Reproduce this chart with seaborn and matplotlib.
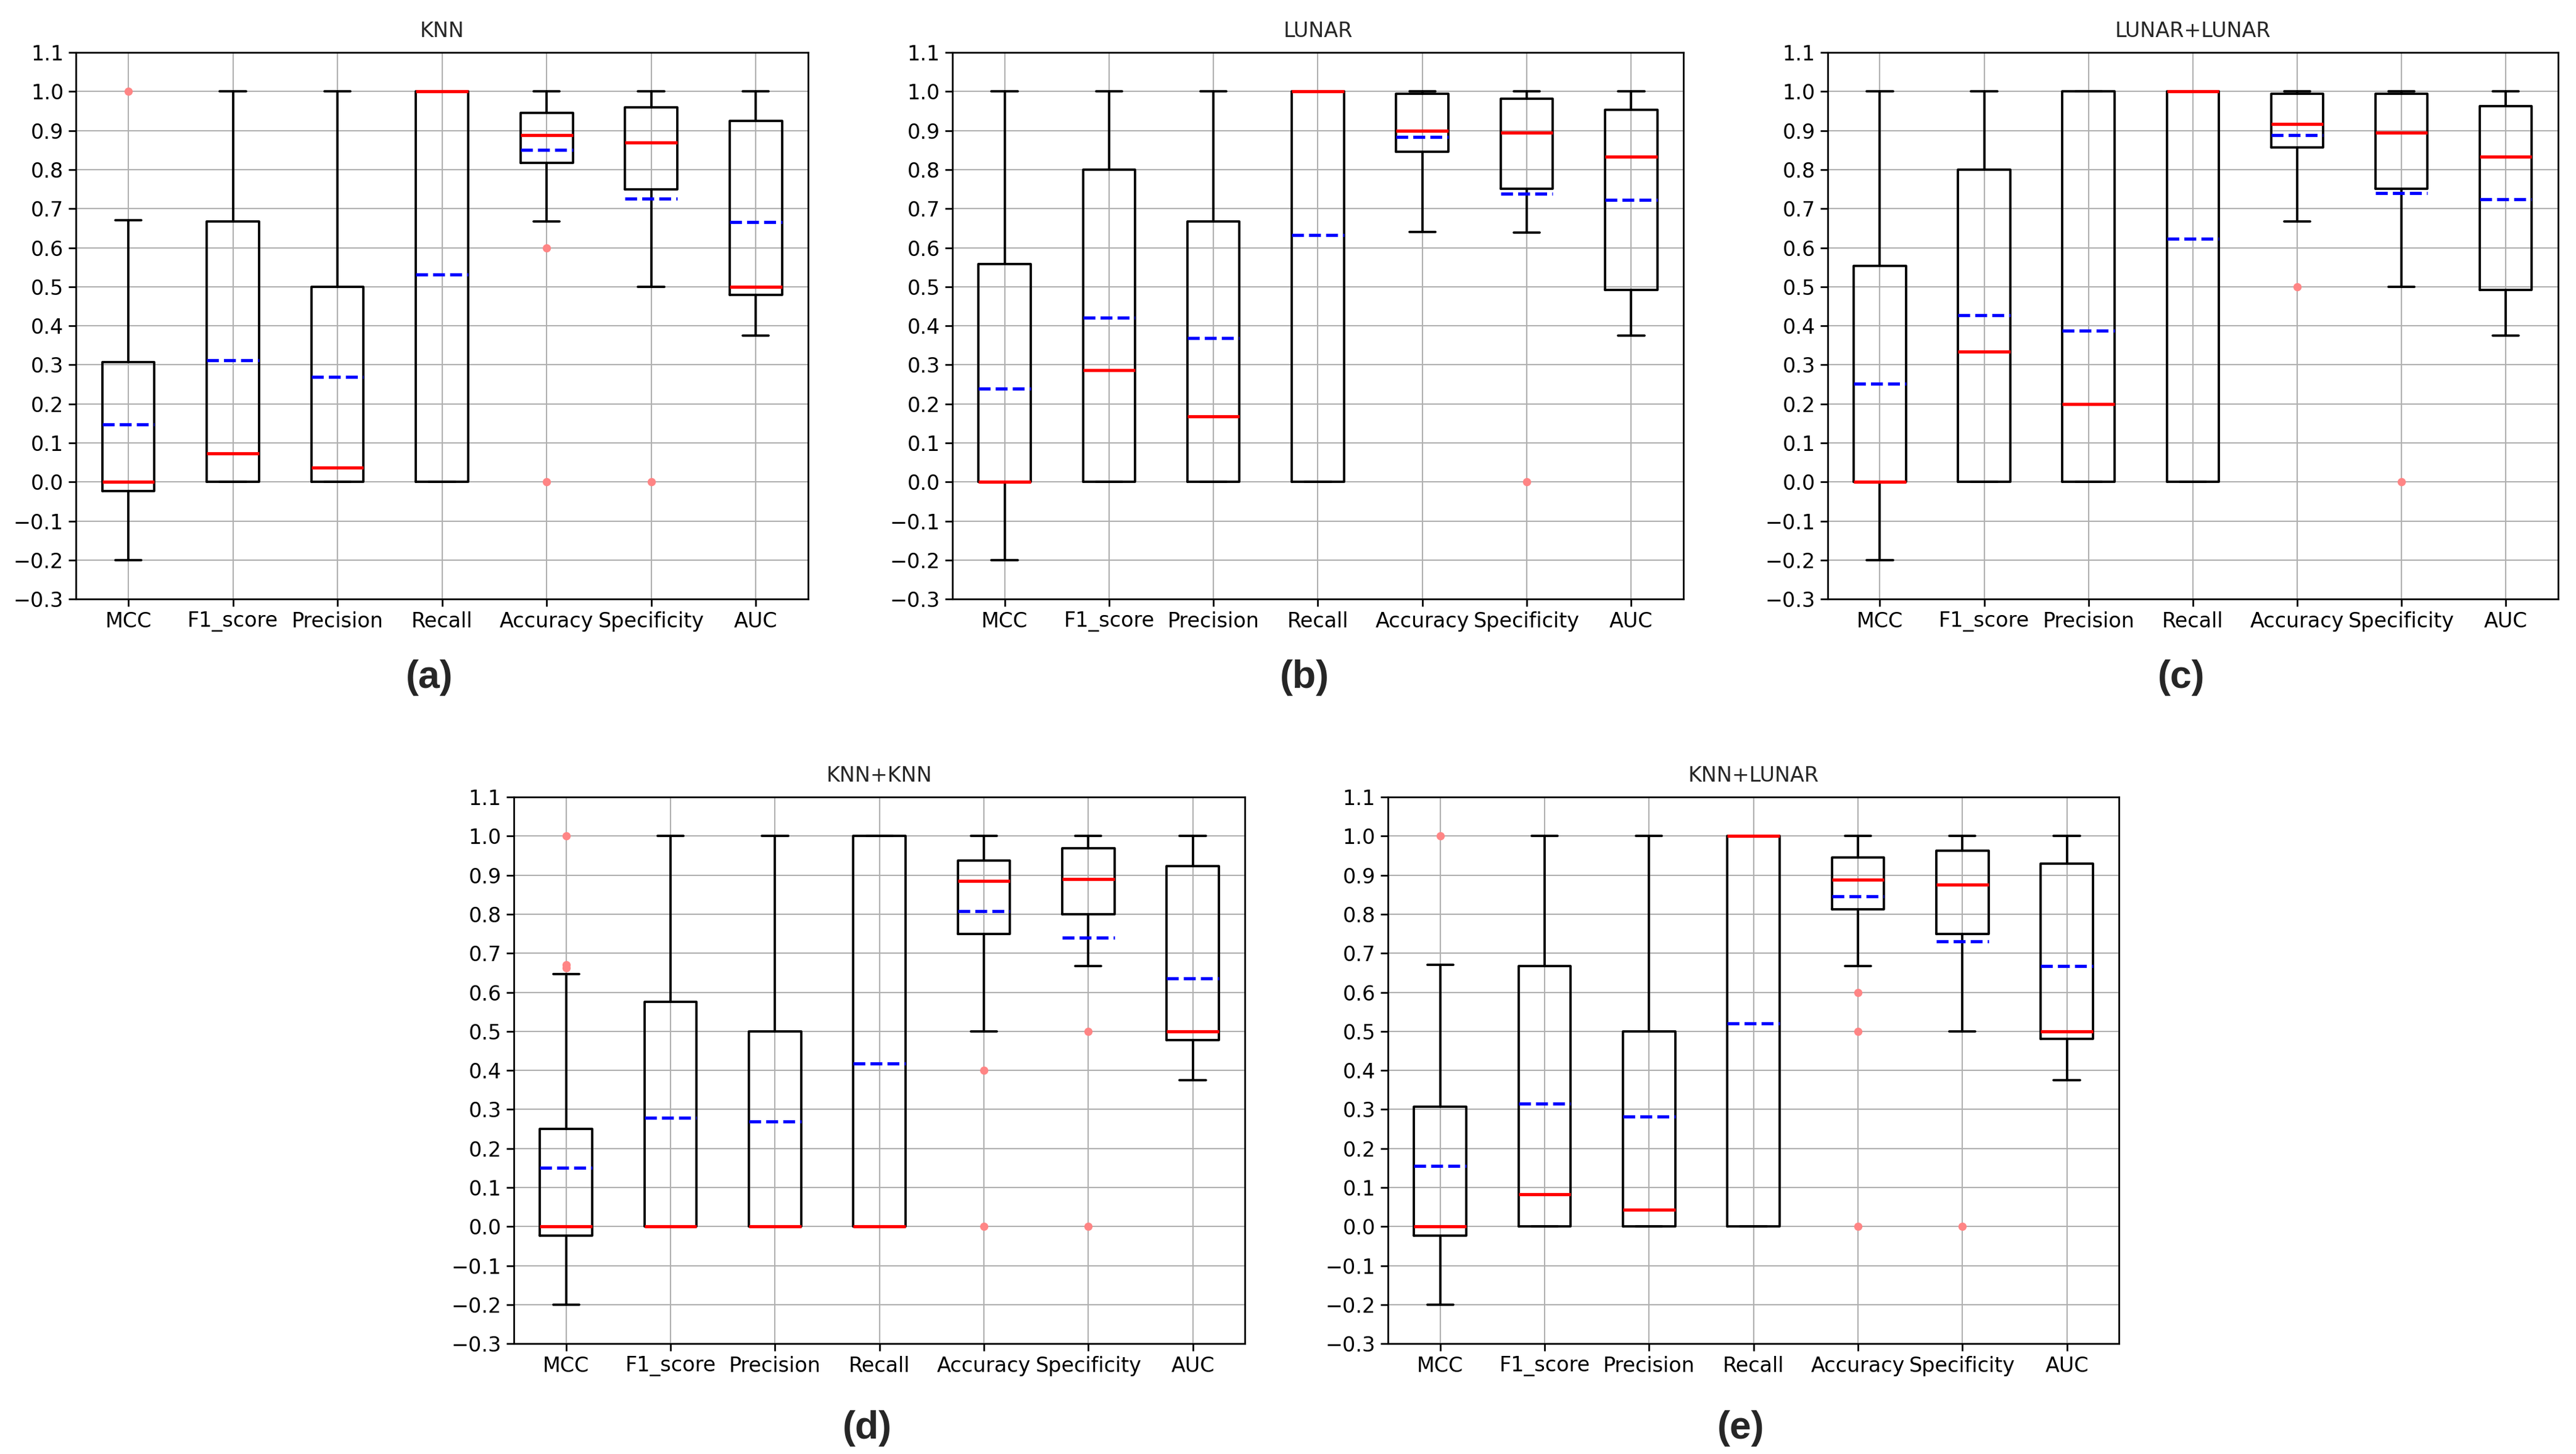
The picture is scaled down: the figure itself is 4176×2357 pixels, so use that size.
import numpy as np
import matplotlib
matplotlib.use("Agg")
import matplotlib.pyplot as plt
from matplotlib import font_manager
import seaborn as sns

# metric names on the x axis
metrics = ["MCC", "F1_score", "Precision", "Recall", "Accuracy", "Specificity", "AUC"]

# box statistics (one value per metric)
# KNN
knn_whislo = [-0.2, 0.0, 0.0, 0.0, 0.667, 0.5, 0.375]
knn_q1 = [-0.024, 0.0, 0.0, 0.0, 0.817, 0.75, 0.479]
knn_med = [0.0, 0.073, 0.037, 1.0, 0.888, 0.870, 0.5]
knn_q3 = [0.307, 0.667, 0.5, 1.0, 0.945, 0.960, 0.924]
knn_whishi = [0.67, 1.0, 1.0, 1.0, 1.0, 1.0, 1.0]
knn_mean = [0.148, 0.312, 0.269, 0.531, 0.851, 0.726, 0.666]
knn_fliers = [[1.0], [], [], [], [0.6, 0.0], [0.0], []]

# LUNAR
lunar_whislo = [-0.2, 0.0, 0.0, 0.0, 0.641, 0.638, 0.375]
lunar_q1 = [0.0, 0.0, 0.0, 0.0, 0.846, 0.751, 0.492]
lunar_med = [0.0, 0.286, 0.168, 1.0, 0.9, 0.895, 0.833]
lunar_q3 = [0.558, 0.8, 0.667, 1.0, 0.994, 0.982, 0.953]
lunar_whishi = [1.0, 1.0, 1.0, 1.0, 1.0, 1.0, 1.0]
lunar_mean = [0.239, 0.420, 0.369, 0.632, 0.884, 0.739, 0.723]
lunar_fliers = [[], [], [], [], [], [0.0], []]

# LUNAR+LUNAR
ll_whislo = [-0.2, 0.0, 0.0, 0.0, 0.667, 0.5, 0.375]
ll_q1 = [0.0, 0.0, 0.0, 0.0, 0.857, 0.751, 0.492]
ll_med = [0.0, 0.333, 0.2, 1.0, 0.917, 0.895, 0.833]
ll_q3 = [0.554, 0.8, 1.0, 1.0, 0.994, 0.994, 0.962]
ll_whishi = [1.0, 1.0, 1.0, 1.0, 1.0, 1.0, 1.0]
ll_mean = [0.251, 0.427, 0.388, 0.623, 0.888, 0.740, 0.724]
ll_fliers = [[], [], [], [], [0.5], [0.0], []]

# KNN+KNN
kk_whislo = [-0.2, 0.0, 0.0, 0.0, 0.5, 0.667, 0.375]
kk_q1 = [-0.024, 0.0, 0.0, 0.0, 0.75, 0.8, 0.478]
kk_med = [0.0, 0.0, 0.0, 0.0, 0.886, 0.89, 0.5]
kk_q3 = [0.25, 0.575, 0.5, 1.0, 0.938, 0.969, 0.923]
kk_whishi = [0.646, 1.0, 1.0, 1.0, 1.0, 1.0, 1.0]
kk_mean = [0.151, 0.279, 0.269, 0.417, 0.808, 0.740, 0.636]
kk_fliers = [[1.0, 0.671, 0.662], [], [], [], [0.4, 0.0], [0.5, 0.0], []]

# KNN+LUNAR
kl_whislo = [-0.2, 0.0, 0.0, 0.0, 0.667, 0.5, 0.375]
kl_q1 = [-0.024, 0.0, 0.0, 0.0, 0.813, 0.75, 0.480]
kl_med = [0.0, 0.082, 0.043, 1.0, 0.889, 0.876, 0.5]
kl_q3 = [0.307, 0.668, 0.5, 1.0, 0.946, 0.963, 0.929]
kl_whishi = [0.671, 1.0, 1.0, 1.0, 1.0, 1.0, 1.0]
kl_mean = [0.155, 0.315, 0.281, 0.521, 0.845, 0.730, 0.668]
kl_fliers = [[1.0], [], [], [], [0.6, 0.5, 0.0], [0.0], []]


def make_stats(whislo, q1, med, q3, whishi, mean, fliers):
    stats = []
    for i, m in enumerate(metrics):
        stats.append({"label": m, "whislo": whislo[i], "q1": q1[i], "med": med[i],
                      "q3": q3[i], "whishi": whishi[i], "mean": mean[i],
                      "fliers": np.array(fliers[i])})
    return stats


panels = [
    ("KNN", "(a)", make_stats(knn_whislo, knn_q1, knn_med, knn_q3, knn_whishi, knn_mean, knn_fliers)),
    ("LUNAR", "(b)", make_stats(lunar_whislo, lunar_q1, lunar_med, lunar_q3, lunar_whishi, lunar_mean, lunar_fliers)),
    ("LUNAR+LUNAR", "(c)", make_stats(ll_whislo, ll_q1, ll_med, ll_q3, ll_whishi, ll_mean, ll_fliers)),
    ("KNN+KNN", "(d)", make_stats(kk_whislo, kk_q1, kk_med, kk_q3, kk_whishi, kk_mean, kk_fliers)),
    ("KNN+LUNAR", "(e)", make_stats(kl_whislo, kl_q1, kl_med, kl_q3, kl_whishi, kl_mean, kl_fliers)),
]

# axes rectangles (left, bottom, width, height) and label positions
rects = [
    (0.0295, 0.5880, 0.2842, 0.3759),
    (0.3697, 0.5880, 0.2838, 0.3759),
    (0.7095, 0.5880, 0.2835, 0.3759),
    (0.1995, 0.0759, 0.2838, 0.3759),
    (0.5388, 0.0759, 0.2838, 0.3759),
]
label_xy = [(0.1667, 0.5341), (0.5065, 0.5341), (0.8467, 0.5341),
            (0.3367, 0.0174), (0.6758, 0.0174)]

sns.set_theme(style="ticks")
plt.rcParams["font.family"] = ["DejaVu Sans"]
plt.rcParams["axes.edgecolor"] = "black"
plt.rcParams["axes.linewidth"] = 0.65
plt.rcParams["xtick.color"] = "black"
plt.rcParams["ytick.color"] = "black"

# narrow bold face for the panel tags if it is there
installed = {f.name for f in font_manager.fontManager.ttflist}
tag_family = ["Liberation Sans Narrow"] if "Liberation Sans Narrow" in installed else ["Liberation Sans"]

fig = plt.figure(figsize=(4176 / 300, 2357 / 300), dpi=300)

for (title, tag, stats), rect, (lx, ly) in zip(panels, rects, label_xy):
    ax = fig.add_axes(rect)
    ax.bxp(stats, showmeans=True, meanline=True, widths=0.5,
           boxprops=dict(color="black", linewidth=0.9),
           whiskerprops=dict(color="black", linewidth=0.9),
           capprops=dict(color="black", linewidth=0.9),
           medianprops=dict(color="red", linewidth=1.25),
           meanprops=dict(color="blue", linestyle="--", linewidth=1.25),
           flierprops=dict(marker="o", markerfacecolor="#ff8585", markeredgecolor="none",
                           markersize=3.2))
    ax.set_ylim(-0.3, 1.1)
    ax.set_yticks(np.arange(-0.3, 1.101, 0.1))
    ax.grid(True, color="#b0b0b0", linewidth=0.5)
    ax.tick_params(labelsize=8, length=2.8, width=0.65, pad=2)
    ax.set_title(title, fontsize=8, pad=6)
    fig.text(lx, ly, tag, ha="center", va="center", fontsize=15,
             fontweight="bold", family=tag_family + ["DejaVu Sans"])

fig.savefig("out.png", dpi=300)
